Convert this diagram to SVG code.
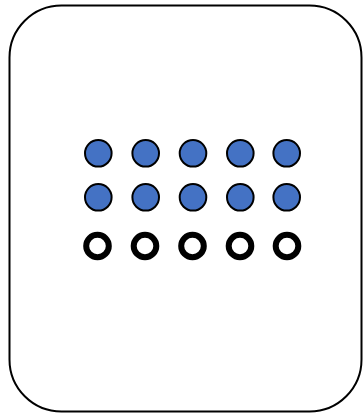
<svg xmlns="http://www.w3.org/2000/svg" width="364" height="414" viewBox="0 0 364 414">
<style>
.frame{fill:#fff;stroke:#000;stroke-width:2}
.full{fill:#4472C4;stroke:#000;stroke-width:2}
.empty{fill:#fff;stroke:#000;stroke-width:6}
</style>
<rect width="364" height="414" fill="#fff"/>
<g id="frame"><rect class="frame" x="9.5" y="5.5" width="352" height="406" rx="52" ry="52"/></g>
<g id="row1">
<circle class="full" cx="98.3" cy="153.3" r="13.3"/>
<circle class="full" cx="145.7" cy="153.3" r="13.3"/>
<circle class="full" cx="193" cy="153.3" r="13.3"/>
<circle class="full" cx="240.3" cy="153.3" r="13.3"/>
<circle class="full" cx="286.7" cy="153.3" r="13.3"/>
</g>
<g id="row2">
<circle class="full" cx="98.3" cy="197.3" r="13.3"/>
<circle class="full" cx="145.7" cy="197.3" r="13.3"/>
<circle class="full" cx="193" cy="197.3" r="13.3"/>
<circle class="full" cx="240.3" cy="197.3" r="13.3"/>
<circle class="full" cx="286.7" cy="197.3" r="13.3"/>
</g>
<g id="row3">
<circle class="empty" cx="97.5" cy="246" r="11.3"/>
<circle class="empty" cx="145" cy="246" r="11.3"/>
<circle class="empty" cx="192.5" cy="246" r="11.3"/>
<circle class="empty" cx="240" cy="246" r="11.3"/>
<circle class="empty" cx="287" cy="246" r="11.3"/>
</g>
<g id="connectors"/>
</svg>
